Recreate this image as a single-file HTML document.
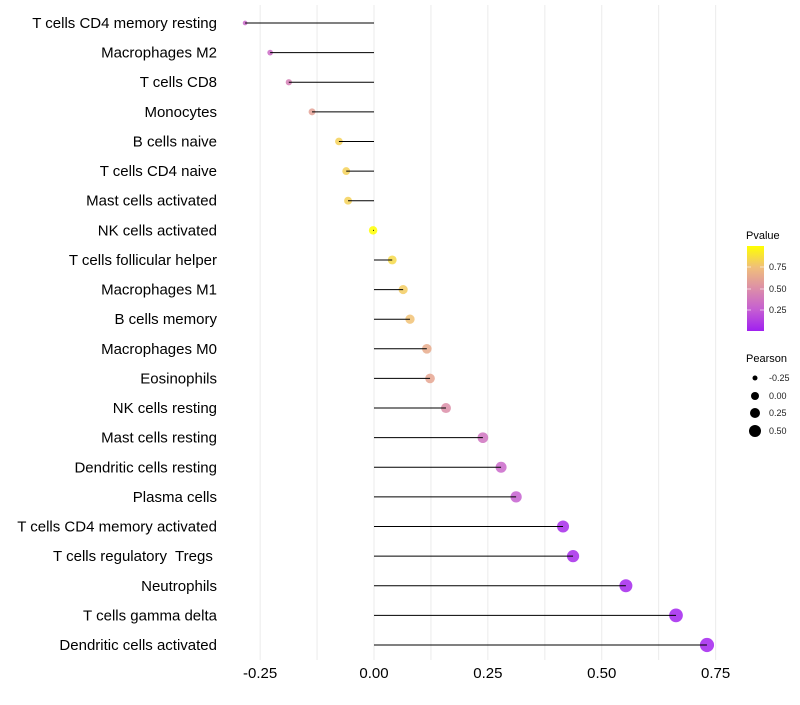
<!DOCTYPE html>
<html><head><meta charset="utf-8"><style>
body{margin:0;background:#fff;font-family:"Liberation Sans",sans-serif;}
svg text{font-family:"Liberation Sans",sans-serif;}
</style></head><body>
<svg id="chart" width="800" height="700" xmlns="http://www.w3.org/2000/svg">
<g id="grid"></g><g id="marks"></g><g id="labels"></g><g id="xticks"></g>
<g>
<defs><linearGradient id="pg" x1="0" y1="1" x2="0" y2="0">
<stop offset="0" stop-color="#a020f0"/><stop offset="0.25" stop-color="#c55ed2"/><stop offset="0.5" stop-color="#dc8ea8"/><stop offset="0.75" stop-color="#f0bf7a"/><stop offset="1" stop-color="#ffff00"/></linearGradient></defs>
<text x="746" y="239" font-size="11">Pvalue</text>
<rect x="747" y="246" width="17" height="85" fill="url(#pg)"/>
<g stroke="#fff" stroke-opacity="0.6"><line x1="747" y1="267" x2="751" y2="267"/><line x1="760" y1="267" x2="764" y2="267"/><line x1="747" y1="289" x2="751" y2="289"/><line x1="760" y1="289" x2="764" y2="289"/><line x1="747" y1="310" x2="751" y2="310"/><line x1="760" y1="310" x2="764" y2="310"/></g>
<g font-size="9" fill="#222"><text x="769" y="270">0.75</text><text x="769" y="292">0.50</text><text x="769" y="313">0.25</text></g>
</g>
<g>
<text x="746" y="362" font-size="11">Pearson</text>
<circle cx="755" cy="378" r="2.5"/><circle cx="755" cy="396" r="4"/><circle cx="755" cy="413" r="5"/><circle cx="755" cy="431" r="6"/>
<g font-size="9" fill="#222"><text x="769" y="381">-0.25</text><text x="769" y="399">0.00</text><text x="769" y="416">0.25</text><text x="769" y="434">0.50</text></g>
</g>
</svg>
<script>
const categories=["T cells CD4 memory resting","Macrophages M2","T cells CD8","Monocytes","B cells naive","T cells CD4 naive","Mast cells activated","NK cells activated","T cells follicular helper","Macrophages M1","B cells memory","Macrophages M0","Eosinophils","NK cells resting","Mast cells resting","Dendritic cells resting","Plasma cells","T cells CD4 memory activated","T cells regulatory  Tregs ","Neutrophils","T cells gamma delta","Dendritic cells activated"];
const pearson=[-0.283,-0.228,-0.187,-0.136,-0.077,-0.061,-0.057,-0.002,0.040,0.064,0.079,0.116,0.123,0.158,0.239,0.279,0.312,0.415,0.437,0.553,0.663,0.731];
const pvalue=[0.3,0.32,0.42,0.6,0.82,0.82,0.82,1.0,0.85,0.8,0.76,0.65,0.62,0.5,0.36,0.3,0.26,0.05,0.05,0.03,0.02,0.02];
const xTicks=[-0.25,0,0.25,0.5,0.75];
const xTickLabels=["-0.25","0.00","0.25","0.50","0.75"];
const NS="http://www.w3.org/2000/svg";
const xs=v=>374+v*455.5;
const ys=i=>23+i*(622/21);
const stops=[[0,[160,32,240]],[0.25,[197,94,210]],[0.5,[220,142,168]],[0.75,[240,191,122]],[1,[255,255,0]]];
function col(p){for(let k=1;k<stops.length;k++){if(p<=stops[k][0]){const a=stops[k-1],b=stops[k],t=(p-a[0])/(b[0]-a[0]);return "rgb("+a[1].map((c,j)=>Math.round(c+(b[1][j]-c)*t)).join(",")+")";}}return "rgb(255,255,0)";}
const rad=v=>Math.sqrt(Math.max(18+44*v,2.5));
function mk(t,a,p){const e=document.createElementNS(NS,t);for(const k in a)e.setAttribute(k,a[k]);p.appendChild(e);return e;}
const grid=document.getElementById('grid');
for(let g=-0.25;g<=0.751;g+=0.125){const l=mk('line',{x1:xs(g),x2:xs(g),y1:5,y2:660,stroke:'#ebebeb','stroke-width':1},grid);

}
const marks=document.getElementById('marks'),labels=document.getElementById('labels');
categories.forEach((c,i)=>{
 const y=ys(i);
 const d=mk('circle',{cx:xs(pearson[i]),cy:y,r:rad(pearson[i]),fill:col(pvalue[i]),'fill-opacity':0.85},marks);
 
 
 const seg=mk('line',{x1:xs(0),x2:xs(pearson[i]),y1:y,y2:y,stroke:'#000','stroke-width':1},marks);
 
 
 const t=mk('text',{x:217,y:y+5,'text-anchor':'end','font-size':15,fill:'#000',style:'white-space:pre'},labels);
 t.textContent=c;
 
 
});
const xt=document.getElementById('xticks');
xTicks.forEach((v,i)=>{const t=mk('text',{x:xs(v),y:678,'text-anchor':'middle','font-size':15,fill:'#000'},xt);
 t.textContent=xTickLabels[i];
 
 });
</script>
</body></html>
